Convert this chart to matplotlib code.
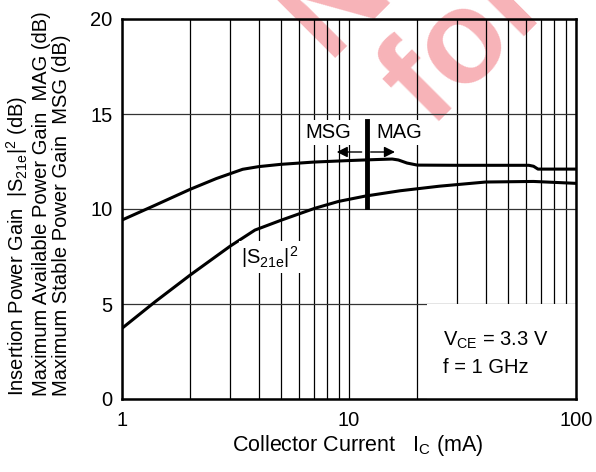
import numpy as np
import matplotlib
matplotlib.use('Agg')
import matplotlib.pyplot as plt
from matplotlib.patches import Rectangle

plt.rcParams['font.family'] = ['Liberation Sans', 'DejaVu Sans']
plt.rcParams['mathtext.fontset'] = 'custom'
plt.rcParams['mathtext.rm'] = 'Liberation Sans'
plt.rcParams['mathtext.it'] = 'Liberation Sans'

# data
ic_gain = [1, 1.4, 2, 2.6, 3.4, 4, 5, 7, 10, 13, 15.5, 16.5, 18, 20, 30, 45, 62, 65, 68, 100]
gain_max = [9.42, 10.2, 11.04, 11.6, 12.09, 12.23, 12.35, 12.47, 12.55, 12.6, 12.63, 12.58,
            12.42, 12.31, 12.3, 12.3, 12.3, 12.25, 12.1, 12.1]
ic_s21 = [1, 1.4, 2, 3, 3.85, 5.05, 7.08, 9, 11.8, 16.8, 25, 40, 65, 100]
s21 = [3.72, 5.12, 6.53, 8.05, 8.89, 9.42, 10.04, 10.4, 10.68, 10.96, 11.2, 11.42, 11.45, 11.35]
msg_mag_border = 12.0

fig = plt.figure(figsize=(5.96, 4.72), dpi=100)
ax = fig.add_axes([122 / 596, 1 - 399 / 472, 454 / 596, 380 / 472])
ax.set_zorder(1)
ax.patch.set_facecolor('none')

# watermark
wm = dict(fontsize=95, fontweight='bold', color='#f7b3b8', rotation=45,
          rotation_mode='anchor', ha='left', va='baseline', zorder=0.5)
fig.text(326 / 596, 1 - 58 / 472, 'Not', **wm)
fig.text(430 / 596, 1 - 128 / 472, 'for', **wm)

ax.plot(ic_gain, gain_max, color='black', lw=2.2, zorder=3)
ax.plot(ic_s21, s21, color='black', lw=2.2, zorder=3)
ax.plot([msg_mag_border, msg_mag_border], [10.1, 14.65], color='black', lw=3.5, zorder=3)

ax.set_xscale('log')
ax.set_xlim(1, 100)
ax.set_ylim(0, 20)
ax.set_yticks([0, 5, 10, 15, 20])
ax.set_xticks([1, 10, 100])
ax.set_xticklabels(['1', '10', '100'])
ax.set_xticks([k * d for d in (1, 10) for k in range(2, 10)], minor=True)
ax.xaxis.set_minor_formatter(plt.NullFormatter())
ax.set_axisbelow(True)
ax.grid(True, which='both', axis='x', color='black', lw=0.9)
ax.grid(True, which='major', axis='y', color='#333333', lw=0.9)
ax.tick_params(which='both', length=0, labelsize=14.5)
ax.tick_params(axis='x', pad=9)
ax.tick_params(axis='y', pad=7)
for s in ax.spines.values():
    s.set_linewidth(1.8)

# white area behind condition text
ax.add_patch(Rectangle((22, 0), 78, 5, facecolor='white', edgecolor='none', zorder=1))

box = dict(facecolor='white', edgecolor='none', pad=2)
ax.text(8.08, 14.04, 'MSG', fontsize=14.5, ha='center', va='center', bbox=box, zorder=4)
ax.text(16.7, 14.04, 'MAG', fontsize=14.5, ha='center', va='center', bbox=box, zorder=4)
arrow = dict(arrowstyle='-|>', color='black', lw=1, mutation_scale=16, shrinkA=0, shrinkB=0)
ax.annotate('', xy=(8.83, 13.0), xytext=(11.37, 13.0), arrowprops=arrow, zorder=4)
ax.annotate('', xy=(15.94, 13.0), xytext=(12.46, 13.0), arrowprops=arrow, zorder=4)
ax.text(4.49, 7.47, r'$|\mathrm{S}_{\mathrm{21e}}|^2$', fontsize=14.5, ha='center', va='center',
        bbox=box, zorder=4)
ax.text(26, 3.07, r'$\mathrm{V}_{\mathrm{CE}}$ = 3.3 V', fontsize=14.5, ha='left', va='center', zorder=4)
ax.text(26, 1.68, 'f = 1 GHz', fontsize=14.5, ha='left', va='center', zorder=4)

fig.text(358 / 596, 1 - 446 / 472, r'Collector Current   $\mathrm{I}_{\mathrm{C}}$ (mA)',
         fontsize=15.5, ha='center', va='center')
fig.text(38 / 596, 1 - 396 / 472,
         'Insertion Power Gain  $|\\mathrm{S}_{\\mathrm{21e}}|^2$ (dB)\n'
         'Maximum Available Power Gain  MAG (dB)\n'
         'Maximum Stable Power Gain  MSG (dB)',
         fontsize=14.5, rotation=90, ha='center', va='bottom', multialignment='left',
         linespacing=1.1)

fig.savefig('out.png', dpi=100)
